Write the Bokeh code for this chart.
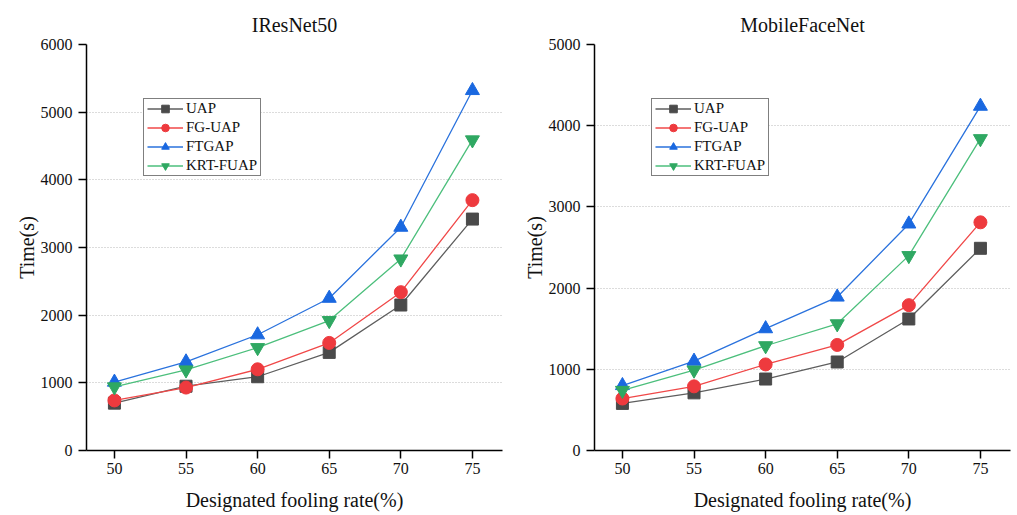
from bokeh.plotting import figure
from bokeh.layouts import row
from bokeh.models import FixedTicker, Range1d, Legend, LegendItem
from bokeh.embed import file_html
from bokeh.resources import INLINE

rates = [50, 55, 60, 65, 70, 75]
methods = ["UAP", "FG-UAP", "FTGAP", "KRT-FUAP"]

iresnet_uap = [700, 950, 1090, 1450, 2150, 3420]
iresnet_fguap = [740, 930, 1200, 1590, 2340, 3700]
iresnet_ftgap = [1010, 1310, 1710, 2250, 3300, 5320]
iresnet_krt = [940, 1190, 1520, 1920, 2830, 4590]

mobile_uap = [580, 710, 880, 1090, 1620, 2490]
mobile_fguap = [640, 790, 1060, 1300, 1790, 2810]
mobile_ftgap = [800, 1100, 1500, 1890, 2790, 4240]
mobile_krt = [740, 990, 1290, 1560, 2400, 3840]

y_ticks_left = [0, 1000, 2000, 3000, 4000, 5000, 6000]
y_ticks_right = [0, 1000, 2000, 3000, 4000, 5000]

line_colors = ["#5e5e5e", "#f04848", "#2a72dd", "#4cbf7c"]
marker_colors = ["#4a4a4a", "#ee3a3e", "#1a68e0", "#2fa862"]
markers = ["square", "circle", "triangle", "inverted_triangle"]
msizes = [12, 13, 14, 14]

FONT = "Liberation Serif"


def make_fig(title, series, yticks, ymax, width, bl, br):
    p = figure(width=width, height=513, output_backend="svg", toolbar_location=None,
               x_range=Range1d(48.05, 77.1), y_range=Range1d(0, ymax),
               min_border_left=bl, min_border_right=br, min_border_top=44,
               min_border_bottom=63)
    p.title.text = title
    p.title.align = "center"
    p.title.text_font = FONT
    p.title.text_font_size = "20px"
    p.title.text_font_style = "normal"
    p.title.text_color = "#111111"
    p.title.standoff = 17
    p.outline_line_color = None
    p.xgrid.grid_line_color = None
    p.ygrid.grid_line_color = "#b8b8b8"
    p.ygrid.grid_line_dash = "1 2"
    p.ygrid.grid_line_width = 1
    p.xaxis.ticker = FixedTicker(ticks=rates)
    p.yaxis.ticker = FixedTicker(ticks=yticks)
    for ax in (p.xaxis[0], p.yaxis[0]):
        ax.axis_line_color = "black"
        ax.axis_line_width = 1.5
        ax.major_tick_line_color = "black"
        ax.major_tick_line_width = 1.5
        ax.major_tick_out = 8
        ax.major_tick_in = 0
        ax.minor_tick_line_color = None
        ax.major_label_text_font = FONT
        ax.major_label_text_font_style = "normal"
        ax.major_label_text_font_size = "16px"
        ax.major_label_text_color = "#111111"
        ax.axis_label_text_font = FONT
        ax.axis_label_text_font_size = "20px"
        ax.axis_label_text_font_style = "normal"
        ax.axis_label_text_color = "#111111"
    p.xaxis.axis_label = "Designated fooling rate(%)"
    p.yaxis.axis_label = "Time(s)"
    p.xaxis.major_label_standoff = 4
    p.yaxis.major_label_standoff = 6
    p.xaxis.axis_label_standoff = 12
    p.yaxis.axis_label_standoff = 0
    items = []
    for i, (name, vals) in enumerate(zip(methods, series)):
        l = p.line(rates, vals, line_color=line_colors[i], line_width=1.3)
        s = p.scatter(rates, vals, marker=markers[i], size=msizes[i],
                      fill_color=marker_colors[i], line_color=marker_colors[i])
        items.append(LegendItem(label=name, renderers=[l, s]))
    legend = Legend(items=items, location=(57, 274))
    legend.label_text_font = FONT
    legend.label_text_font_style = "normal"
    legend.label_text_font_size = "15px"
    legend.label_text_color = "#111111"
    legend.border_line_color = "black"
    legend.border_line_width = 1.5
    legend.background_fill_alpha = 1
    legend.glyph_width = 36
    legend.glyph_height = 19
    legend.label_height = 19
    legend.spacing = 0
    legend.padding = (3, 0)
    legend.margin = 0
    legend.label_standoff = 3
    p.add_layout(legend, "center")
    return p


left = make_fig("IResNet50", [iresnet_uap, iresnet_fguap, iresnet_ftgap, iresnet_krt],
                y_ticks_left, 6000, 504, 86, 2)
right = make_fig("MobileFaceNet", [mobile_uap, mobile_fguap, mobile_ftgap, mobile_krt],
                 y_ticks_right, 5000, 508, 90, 2)

layout = row(left, right, spacing=0)
open("out.html", "w").write(file_html(layout, INLINE))
